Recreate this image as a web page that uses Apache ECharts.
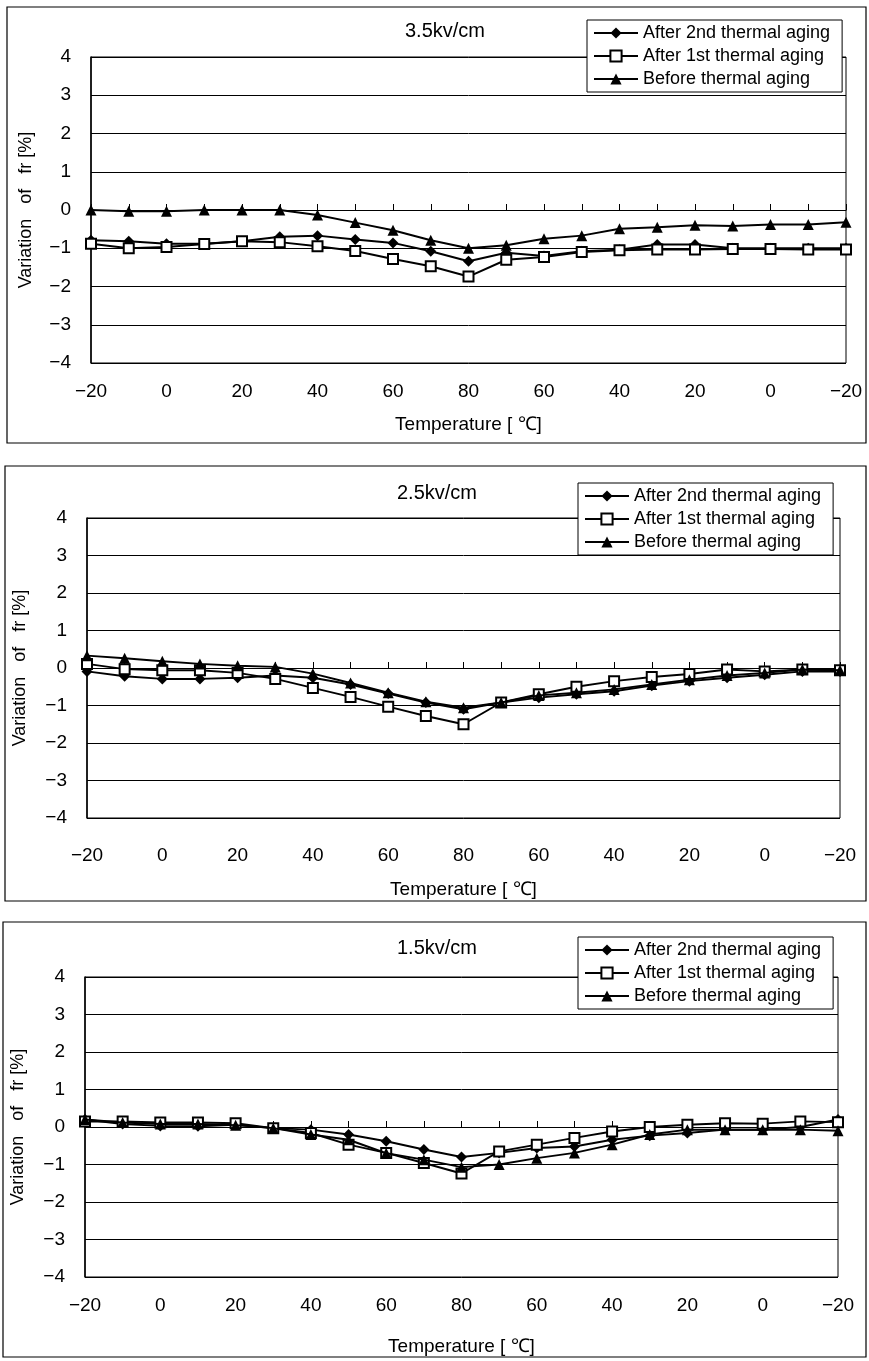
<!DOCTYPE html>
<html><head><meta charset="utf-8">
<script src="https://cdn.jsdelivr.net/npm/echarts@6/dist/echarts.min.js"></script>
<style>html,body{margin:0;padding:0;background:#fff}#c{width:869px;height:1361px}</style>
</head><body><div id="c"></div>
<script>
// Temperature sequence: heating -20 -> 80, then cooling 80 -> -20
const categories = ['-20','-10','0','10','20','30','40','50','60','70','80','70','60','50','40','30','20','10','0','-10','-20'];
const seriesNames = ['After 2nd thermal aging','After 1st thermal aging','Before thermal aging'];
const chartTitles = ['3.5kv/cm','2.5kv/cm','1.5kv/cm'];
const yTicks = [-4,-3,-2,-1,0,1,2,3,4];

// 3.5 kV/cm
const after2nd_35 = [-0.79,-0.82,-0.88,-0.88,-0.82,-0.70,-0.67,-0.77,-0.86,-1.08,-1.34,-1.12,-1.20,-1.08,-1.04,-0.90,-0.90,-1.00,-1.00,-1.00,-1.00];
const after1st_35 = [-0.88,-1.00,-0.97,-0.89,-0.82,-0.84,-0.95,-1.07,-1.28,-1.47,-1.74,-1.30,-1.23,-1.10,-1.05,-1.03,-1.03,-1.02,-1.02,-1.03,-1.03];
const before_35   = [0.00,-0.03,-0.03,0.00,0.00,0.00,-0.13,-0.33,-0.53,-0.79,-1.00,-0.92,-0.75,-0.67,-0.49,-0.45,-0.40,-0.42,-0.38,-0.38,-0.32];
// 2.5 kV/cm
const after2nd_25 = [-0.09,-0.22,-0.29,-0.29,-0.26,-0.20,-0.26,-0.44,-0.68,-0.92,-1.10,-0.92,-0.79,-0.70,-0.62,-0.47,-0.35,-0.26,-0.18,-0.09,-0.09];
const after1st_25 = [0.11,-0.03,-0.06,-0.06,-0.13,-0.29,-0.53,-0.77,-1.03,-1.28,-1.50,-0.92,-0.70,-0.50,-0.35,-0.24,-0.16,-0.04,-0.09,-0.04,-0.06];
const before_25   = [0.33,0.26,0.18,0.11,0.06,0.03,-0.15,-0.40,-0.66,-0.90,-1.06,-0.92,-0.73,-0.66,-0.57,-0.44,-0.31,-0.20,-0.13,-0.04,-0.06];
// 1.5 kV/cm
const after2nd_15 = [0.20,0.08,0.03,0.02,0.06,-0.03,-0.07,-0.20,-0.38,-0.60,-0.80,-0.69,-0.56,-0.52,-0.34,-0.23,-0.16,-0.07,-0.07,0.00,0.20];
const after1st_15 = [0.15,0.15,0.12,0.12,0.10,-0.03,-0.16,-0.47,-0.69,-0.96,-1.24,-0.65,-0.47,-0.29,-0.12,0.00,0.06,0.10,0.09,0.15,0.13];
const before_15   = [0.20,0.12,0.08,0.08,0.05,-0.03,-0.20,-0.34,-0.70,-0.87,-1.07,-1.00,-0.83,-0.69,-0.47,-0.20,-0.07,-0.07,-0.07,-0.07,-0.10];

const dataSets = [
  [after2nd_35, after1st_35, before_35],
  [after2nd_25, after1st_25, before_25],
  [after2nd_15, after1st_15, before_15]
];

// layout (pixels)
const layout = [
  {frame:[7,7,859,436], grid:{left:91,top:57,width:755,height:306}, titleX:440, titleY:16, legend:{left:587,top:20}, lblMargin:19, nameGap:52, yNameGap:56},
  {frame:[5,466,861,435], grid:{left:87,top:518,width:753,height:300}, titleX:432, titleY:478, legend:{left:578,top:483}, lblMargin:28, nameGap:62, yNameGap:58},
  {frame:[3,922,863,435], grid:{left:85,top:977,width:753,height:300}, titleX:432, titleY:933, legend:{left:578,top:937}, lblMargin:19, nameGap:60, yNameGap:58}
];

const FONT = '"Liberation Sans", Arial, sans-serif';
const symbols = ['diamond','emptyRect','triangle'];
const symSizes = [11,10,11];
const minusFmt = v => String(v).replace('-', '\u2212');

const option = {
  animation:false,
  backgroundColor:'#fff',
  textStyle:{fontFamily:FONT,color:'#000'},
  title:[], legend:[], grid:[], xAxis:[], yAxis:[], series:[],
  graphic:[]
};

layout.forEach((L,i)=>{
  option.graphic.push({type:'rect',shape:{x:L.frame[0],y:L.frame[1],width:L.frame[2],height:L.frame[3]},style:{fill:null,stroke:'#000',lineWidth:1.2},z:-1});
  option.title.push({text:chartTitles[i],left:L.titleX,top:L.titleY,textAlign:'center',textStyle:{fontSize:20,fontWeight:'normal',fontFamily:FONT,color:'#000'}});
  option.legend.push({data:seriesNames,orient:'vertical',left:L.legend.left,top:L.legend.top,backgroundColor:'#fff',borderColor:'#000',borderWidth:1,borderRadius:0,padding:[4,12,4,6],itemGap:5,itemWidth:44,itemHeight:14,textStyle:{fontSize:18,lineHeight:17,fontFamily:FONT,color:'#000',padding:[0,0,0,0]},z:10,selectedMode:false});
  option.grid.push(Object.assign({show:true,borderColor:'#000',borderWidth:1,backgroundColor:'transparent'},L.grid));
  option.yAxis.push({type:'value',gridIndex:i,min:yTicks[0],max:yTicks[yTicks.length-1],interval:1,
    axisLine:{show:true,lineStyle:{color:'#000',width:1.5}},axisTick:{show:false},
    splitLine:{show:true,lineStyle:{color:'#000',width:1}},
    axisLabel:{fontSize:19,color:'#000',fontFamily:FONT,margin:20,formatter:minusFmt},
    name:'Variation   of   fr [%]',nameLocation:'middle',nameRotate:90,nameGap:L.yNameGap,nameTextStyle:{fontSize:18,color:'#000',fontFamily:FONT}});
  // zero-crossing axis with ticks
  option.xAxis.push({type:'category',gridIndex:i,data:categories,boundaryGap:false,position:'bottom',
    axisLine:{show:true,onZero:true,lineStyle:{color:'#000',width:1.2}},
    axisTick:{show:true,inside:true,length:6,interval:0,lineStyle:{color:'#000'}},
    axisLabel:{show:false},splitLine:{show:false}});
  // bottom label axis
  option.xAxis.push({type:'category',gridIndex:i,data:categories,boundaryGap:false,position:'bottom',
    axisLine:{show:false,onZero:false},axisTick:{show:false},splitLine:{show:false},
    axisLabel:{show:true,interval:1,fontSize:19,color:'#000',fontFamily:FONT,margin:L.lblMargin,formatter:minusFmt},
    name:'Temperature [ ℃]',nameLocation:'middle',nameGap:L.nameGap,nameTextStyle:{fontSize:19,color:'#000',fontFamily:FONT}});
  seriesNames.forEach((nm,k)=>{
    option.series.push({type:'line',name:nm,xAxisIndex:i*2,yAxisIndex:i,data:dataSets[i][k],
      symbol:symbols[k],symbolSize:symSizes[k],showSymbol:true,
      lineStyle:{color:'#000',width:2},
      itemStyle:{color:'#000',borderColor:'#000',borderWidth:k===1?1.8:0},
      z:2+k});
  });
});

const chart = echarts.init(document.getElementById('c'),null,{renderer:'canvas'});
chart.setOption(option);
</script>
</body></html>
